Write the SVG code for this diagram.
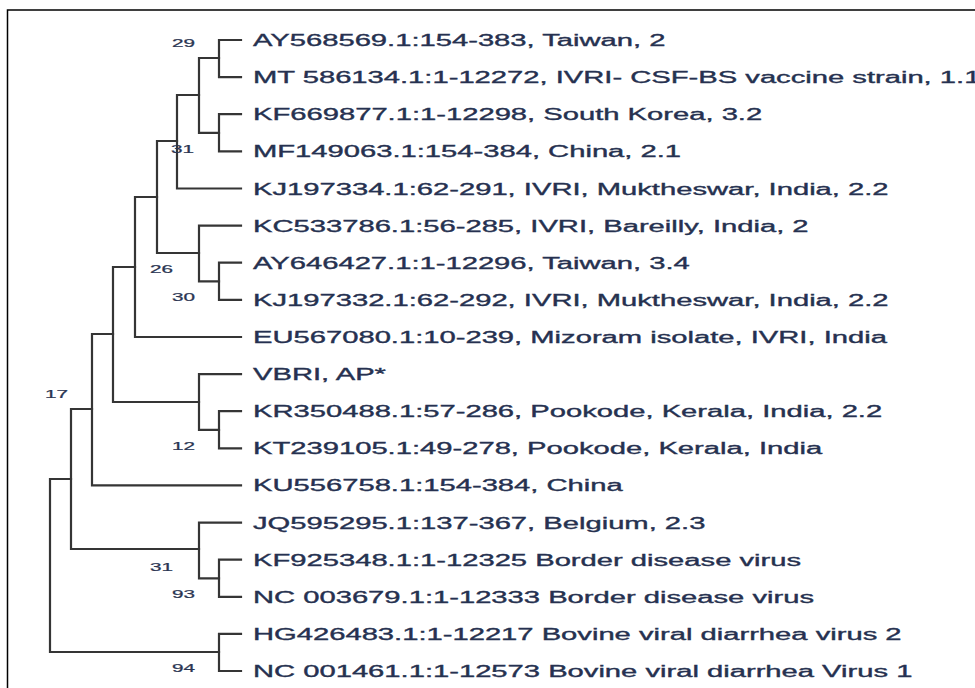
<svg xmlns="http://www.w3.org/2000/svg" width="975" height="688" viewBox="0 0 975 688">
<style>
.lf{font-family:"Liberation Sans",Arial,sans-serif;font-size:16.4px;fill:#263150;stroke:#263150;stroke-width:0.35px;}
.bs{font-family:"Liberation Sans",Arial,sans-serif;font-size:11.5px;fill:#2a3552;stroke:#2a3552;stroke-width:0.25px;}
.br{fill:none;stroke:#353535;stroke-width:2.2;stroke-linecap:square;}
.frame{fill:none;stroke:#000;stroke-width:1.5;}
</style>
<rect width="975" height="688" fill="#fff"/>
<path class="frame" d="M7.5,688 V10 H975"/>
<g id="connectors">
<path class="br" d="M50,479 V652 M50,479 H71 M50,652 H219"/>
<path class="br" d="M71,409 V549 M71,409 H92 M71,549 H199"/>
<path class="br" d="M92,334 V485.4 M92,334 H113 M92,485.4 H241"/>
<path class="br" d="M113,267 V402 M113,267 H135 M113,402 H199"/>
<path class="br" d="M135,197 V337 M135,197 H157 M135,337 H241"/>
<path class="br" d="M157,141 V253 M157,141 H177 M157,253 H199"/>
<path class="br" d="M177,95 V188.5 M177,95 H199 M177,188.5 H241"/>
<path class="br" d="M199,58 V132.8 M199,58 H219 M199,132.8 H219"/>
<path class="br" d="M219,40 V77.1 M219,40 H241 M219,77.1 H241"/>
<path class="br" d="M219,114.2 V151.4 M219,114.2 H241 M219,151.4 H241"/>
<path class="br" d="M199,225.6 V281.3 M199,225.6 H241 M199,281.3 H219"/>
<path class="br" d="M219,262.7 V299.8 M219,262.7 H241 M219,299.8 H241"/>
<path class="br" d="M199,374.1 V429.8 M199,374.1 H241 M199,429.8 H219"/>
<path class="br" d="M219,411.2 V448.3 M219,411.2 H241 M219,448.3 H241"/>
<path class="br" d="M199,522.6 V578.3 M199,522.6 H241 M199,578.3 H219"/>
<path class="br" d="M219,559.7 V596.8 M219,559.7 H241 M219,596.8 H241"/>
<path class="br" d="M219,633.9 V671 M219,633.9 H241 M219,671 H241"/>
</g>
<g id="leaf1"><text class="lf" transform="translate(253,46) scale(1.78,1)">AY568569.1:154-383, Taiwan, 2</text></g>
<g id="leaf2"><text class="lf" transform="translate(253,83.1) scale(1.78,1)">MT 586134.1:1-12272, IVRI- CSF-BS vaccine strain, 1.1</text></g>
<g id="leaf3"><text class="lf" transform="translate(253,120.2) scale(1.78,1)">KF669877.1:1-12298, South Korea, 3.2</text></g>
<g id="leaf4"><text class="lf" transform="translate(253,157.4) scale(1.78,1)">MF149063.1:154-384, China, 2.1</text></g>
<g id="leaf5"><text class="lf" transform="translate(253,194.5) scale(1.78,1)">KJ197334.1:62-291, IVRI, Muktheswar, India, 2.2</text></g>
<g id="leaf6"><text class="lf" transform="translate(253,231.6) scale(1.78,1)">KC533786.1:56-285, IVRI, Bareilly, India, 2</text></g>
<g id="leaf7"><text class="lf" transform="translate(253,268.7) scale(1.78,1)">AY646427.1:1-12296, Taiwan, 3.4</text></g>
<g id="leaf8"><text class="lf" transform="translate(253,305.8) scale(1.78,1)">KJ197332.1:62-292, IVRI, Muktheswar, India, 2.2</text></g>
<g id="leaf9"><text class="lf" transform="translate(253,343) scale(1.78,1)">EU567080.1:10-239, Mizoram isolate, IVRI, India</text></g>
<g id="leaf10"><text class="lf" transform="translate(253,380.1) scale(1.78,1)">VBRI, AP*</text></g>
<g id="leaf11"><text class="lf" transform="translate(253,417.2) scale(1.78,1)">KR350488.1:57-286, Pookode, Kerala, India, 2.2</text></g>
<g id="leaf12"><text class="lf" transform="translate(253,454.3) scale(1.78,1)">KT239105.1:49-278, Pookode, Kerala, India</text></g>
<g id="leaf13"><text class="lf" transform="translate(253,491.4) scale(1.78,1)">KU556758.1:154-384, China</text></g>
<g id="leaf14"><text class="lf" transform="translate(253,528.6) scale(1.78,1)">JQ595295.1:137-367, Belgium, 2.3</text></g>
<g id="leaf15"><text class="lf" transform="translate(253,565.7) scale(1.78,1)">KF925348.1:1-12325 Border disease virus</text></g>
<g id="leaf16"><text class="lf" transform="translate(253,602.8) scale(1.78,1)">NC 003679.1:1-12333 Border disease virus</text></g>
<g id="leaf17"><text class="lf" transform="translate(253,639.9) scale(1.78,1)">HG426483.1:1-12217 Bovine viral diarrhea virus 2</text></g>
<g id="leaf18"><text class="lf" transform="translate(253,677) scale(1.78,1)">NC 001461.1:1-12573 Bovine viral diarrhea Virus 1</text></g>
<g id="bs29"><text class="bs" transform="translate(172,47) scale(1.8,1)">29</text></g>
<g id="bs31a"><text class="bs" transform="translate(171,153) scale(1.8,1)">31</text></g>
<g id="bs26"><text class="bs" transform="translate(150,273) scale(1.8,1)">26</text></g>
<g id="bs30"><text class="bs" transform="translate(172,301) scale(1.8,1)">30</text></g>
<g id="bs17"><text class="bs" transform="translate(45,398) scale(1.8,1)">17</text></g>
<g id="bs12"><text class="bs" transform="translate(172,450) scale(1.8,1)">12</text></g>
<g id="bs31b"><text class="bs" transform="translate(150,571) scale(1.8,1)">31</text></g>
<g id="bs93"><text class="bs" transform="translate(172,598) scale(1.8,1)">93</text></g>
<g id="bs94"><text class="bs" transform="translate(172,672) scale(1.8,1)">94</text></g>
</svg>
